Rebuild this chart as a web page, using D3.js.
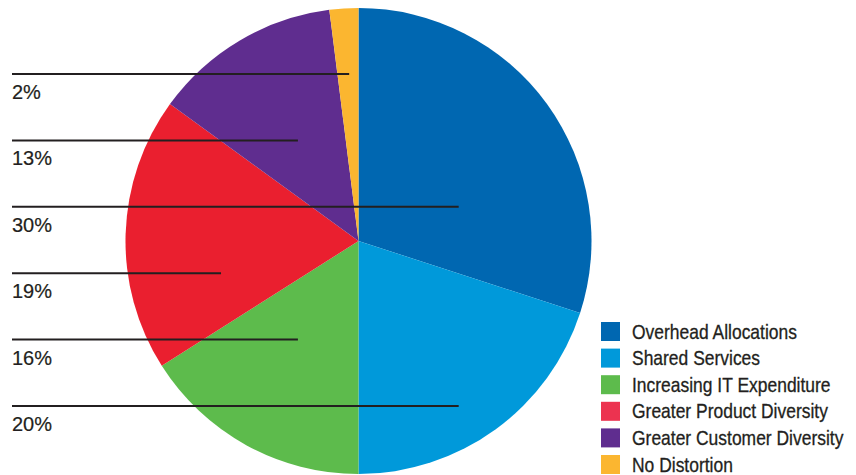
<!DOCTYPE html>
<html>
<head>
<meta charset="utf-8">
<script src="https://cdn.jsdelivr.net/npm/d3@7"></script>
<style>
  html, body { margin: 0; padding: 0; background: #fff; }
  svg { display: block; }
  .pct { font-family: "Liberation Sans", Arial, sans-serif; font-size: 20px; fill: #231f20; stroke: #231f20; stroke-width: 0.2px; }
  .leg { font-family: "Liberation Sans", Arial, sans-serif; font-size: 20px; fill: #231f20; stroke: #231f20; stroke-width: 0.3px; }
</style>
</head>
<body>
<svg id="chart" width="856" height="475"></svg>
<script>
// Slices, clockwise from 12 o'clock
const categories = [
  "Overhead Allocations",
  "Shared Services",
  "Increasing IT Expenditure",
  "Greater Product Diversity",
  "Greater Customer Diversity",
  "No Distortion"
];
const values = [30, 20, 16, 19, 13, 2];
const colors = ["#0067b1", "#0099da", "#5dbb4c", "#ea1f2f", "#5f2d8f", "#fbb630"];
const legendColors = ["#0067b1", "#0099da", "#5dbb4c", "#ec3350", "#5f2d8f", "#fbb630"];

// Percentage callouts, top to bottom, each pointing into its slice
const calloutOrder = ["No Distortion", "Greater Customer Diversity", "Overhead Allocations",
                      "Greater Product Diversity", "Increasing IT Expenditure", "Shared Services"];
// horizontal reach of each leader line, as a fraction of the radius from the centre
const calloutReach = [-0.04, -0.26, 0.43, -0.59, -0.26, 0.43];

const svg = d3.select("#chart");
const cx = 358.5, cy = 241, r = 233;

const pie = d3.pie().sort(null).value(d => d.value);
const arc = d3.arc().innerRadius(0).outerRadius(r);
const data = categories.map((c, i) => ({ name: c, value: values[i], color: colors[i] }));

svg.append("g")
  .attr("transform", `translate(${cx},${cy})`)
  .selectAll("path")
  .data(pie(data))
  .join("path")
  .attr("d", arc)
  .attr("fill", d => d.data.color);

// Leader lines and percentage labels
const yRow = d3.scalePoint().domain(calloutOrder).range([74, 406]);
const xLine = d3.scaleLinear().domain([-1, 1]).range([cx - r, cx + r]);
const valueOf = name => values[categories.indexOf(name)];

const callouts = svg.append("g").selectAll("g")
  .data(calloutOrder)
  .join("g");

callouts.append("line")
  .attr("x1", 12)
  .attr("x2", (d, i) => xLine(calloutReach[i]))
  .attr("y1", d => yRow(d))
  .attr("y2", d => yRow(d))
  .attr("stroke", "#231f20")
  .attr("stroke-width", 2);

callouts.append("text")
  .attr("class", "pct")
  .attr("x", 12)
  .attr("y", d => yRow(d) + 25)
  .text(d => valueOf(d) + "%");

// Legend
const yLeg = d3.scalePoint().domain(categories).range([322, 455]);
const legend = svg.append("g").selectAll("g")
  .data(categories)
  .join("g")
  .attr("transform", d => `translate(601,${yLeg(d)})`);

legend.append("rect")
  .attr("width", 19)
  .attr("height", 19)
  .attr("fill", (d, i) => legendColors[i]);

// Condensed labels: squeeze the regular face horizontally so the first
// entry spans 165px, the same narrow set width for every entry
const labels = legend.append("g")
  .attr("transform", "translate(31,16.5)")
  .append("text")
  .attr("class", "leg")
  .text(d => d);

const firstWidth = labels.node().getComputedTextLength();
const squeeze = 165 / firstWidth;
labels.attr("transform", `scale(${squeeze},1)`);
</script>
</body>
</html>
